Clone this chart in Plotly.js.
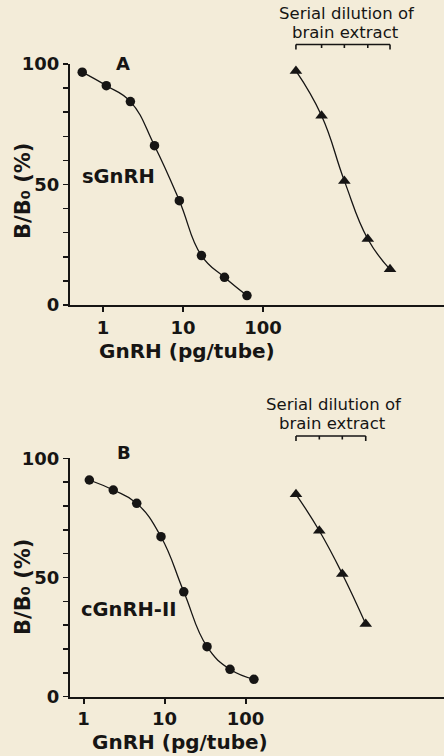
<!DOCTYPE html>
<html>
<head>
<meta charset="utf-8">
<script src="https://cdn.plot.ly/plotly-3.0.1.min.js"></script>
<style>
html, body { margin: 0; padding: 0; background: #f3ecd9; }
#chart { width: 444px; height: 756px; }
</style>
</head>
<body>
<div id="chart"></div>
<script>
// ---- Data ----
// Panel A: sGnRH standard curve
const dosesA = [0.55, 1.1, 2.2, 4.4, 9, 17, 33, 63];          // pg/tube
const bindA  = [96.6, 91.0, 84.4, 66.1, 43.3, 20.5, 11.5, 3.9]; // B/B0 %
// Panel A: serial dilution of brain extract (plotted on same log axis)
const dilutionA = [258, 540, 1040, 2040, 3870];
const extractA  = [97.1, 78.5, 51.5, 27.4, 14.8];

// Panel B: cGnRH-II standard curve
const dosesB = [1.18, 2.33, 4.54, 9.05, 17.3, 33.5, 64.4, 127];
const bindB  = [90.9, 86.7, 81.1, 67.1, 44.0, 21.0, 11.5, 7.3];
const dilutionB = [420, 815, 1567, 3050];
const extractB  = [84.9, 69.6, 51.5, 30.5];

const xTickVals = [1, 10, 100];
const xTickText = ['1', '10', '100'];
const yTickVals = [0, 50, 100];
const yTickText = ['0', '50', '100'];

const panelLabels = ['A', 'B'];
const peptideLabels = ['sGnRH', 'cGnRH-II'];
const xTitle = 'GnRH (pg/tube)';
const yTitle = 'B/B\u2080 (%)';
const bracketLines = ['Serial dilution of', 'brain extract'];

// ---- Styling ----
const W = 444, H = 756;
const ink = '#161514';
const bg = '#f3ecd9';
const tickFont = {family: 'DejaVu Sans', size: 18, color: ink, weight: 'bold'};
const px = v => v / W;
const py = v => 1 - v / H;

function curve(x, y, xa, ya) {
  return {x: x, y: y, xaxis: xa, yaxis: ya, type: 'scatter', mode: 'lines+markers',
    line: {color: ink, width: 1.3, shape: 'spline', smoothing: 1.3},
    marker: {symbol: 'circle', size: 9.5, color: ink},
    cliponaxis: false, showlegend: false, hoverinfo: 'x+y'};
}
function tri(x, y, xa, ya) {
  return {x: x, y: y, xaxis: xa, yaxis: ya, type: 'scatter', mode: 'lines+markers',
    line: {color: ink, width: 1.3, shape: 'spline', smoothing: 1.3},
    marker: {symbol: 'triangle-up', size: 11, color: ink},
    cliponaxis: false, showlegend: false, hoverinfo: 'x+y'};
}

const data = [
  curve(dosesA, bindA, 'x', 'y'),
  tri(dilutionA, extractA, 'x', 'y'),
  curve(dosesB, bindB, 'x2', 'y2'),
  tri(dilutionB, extractB, 'x2', 'y2')
];

function xAxis(range, anchor) {
  return {
    type: 'log', domain: [px(70), 1], anchor: anchor, range: range,
    tickmode: 'array', tickvals: xTickVals, ticktext: xTickText,
    ticks: 'outside', ticklen: 5, tickwidth: 2, tickcolor: ink,
    showline: true, linewidth: 2, linecolor: ink,
    showgrid: false, zeroline: false,
    tickfont: tickFont,
    fixedrange: true
  };
}
function yAxis(domain, anchor) {
  return {
    domain: domain, anchor: anchor, range: [0, 100],
    tickmode: 'array', tickvals: yTickVals, ticktext: yTickText,
    ticks: 'outside', ticklen: 5, tickwidth: 1.5, tickcolor: ink,
    minor: {tickmode: 'linear', tick0: 0, dtick: 10, ticks: 'outside', ticklen: 5, tickwidth: 1.5, tickcolor: ink, showgrid: false},
    showline: true, linewidth: 2, linecolor: ink,
    showgrid: false, zeroline: false,
    tickfont: tickFont,
    fixedrange: true
  };
}

// brackets built from the dilution positions
function bracket(xs, xref, yTop) {
  const shapes = [];
  const st = {color: ink, width: 1.6};
  shapes.push({type: 'line', xref: xref, yref: 'paper', x0: xs[0], x1: xs[xs.length - 1],
    y0: py(yTop), y1: py(yTop), line: st});
  xs.forEach((x, i) => {
    const end = (i === 0 || i === xs.length - 1);
    shapes.push({type: 'line', xref: xref, yref: 'paper', x0: x, x1: x,
      y0: py(yTop), y1: py(yTop + (end ? 5 : 3.5)), line: st});
  });
  return shapes;
}

function ann(text, x, y, size, bold, extra) {
  return Object.assign({text: text, xref: 'paper', yref: 'paper', x: px(x), y: py(y),
    xanchor: 'center', yanchor: 'middle', showarrow: false,
    font: {family: 'DejaVu Sans', size: size, color: ink, weight: bold ? 'bold' : 'normal'}}, extra || {});
}

const annotations = [
  ann(panelLabels[0], 123, 63, 18, true),
  ann(peptideLabels[0], 119, 176, 19.5, true),
  ann(bracketLines[0], 347, 14, 16.5, false),
  ann(bracketLines[1], 345, 33, 16.5, false),
  ann(yTitle, 23, 191, 21, true, {textangle: -90}),
  ann(xTitle, 187, 351, 20, true),
  ann(panelLabels[1], 124, 452, 18, true),
  ann(peptideLabels[1], 128, 609, 19.5, true),
  ann(bracketLines[0], 334, 404, 16.5, false),
  ann(bracketLines[1], 332, 423, 16.5, false),
  ann(yTitle, 23, 587, 21, true, {textangle: -90}),
  ann(xTitle, 180, 742, 20, true)
];

const layout = {
  width: W, height: H,
  margin: {l: 0, r: 0, t: 0, b: 0},
  paper_bgcolor: bg, plot_bgcolor: bg,
  font: {family: 'DejaVu Sans', color: ink},
  showlegend: false,
  xaxis: xAxis([-0.4125, 4.2625], 'y'),
  yaxis: yAxis([py(305), py(64)], 'x'),
  xaxis2: xAxis([-0.1667, 4.4506], 'y2'),
  yaxis2: yAxis([py(696.7), py(458.3)], 'x2'),
  shapes: bracket(dilutionA, 'x', 44.5).concat(bracket(dilutionB, 'x2', 436)),
  annotations: annotations
};

Plotly.newPlot('chart', data, layout, {staticPlot: true, displayModeBar: false});
</script>
</body>
</html>
